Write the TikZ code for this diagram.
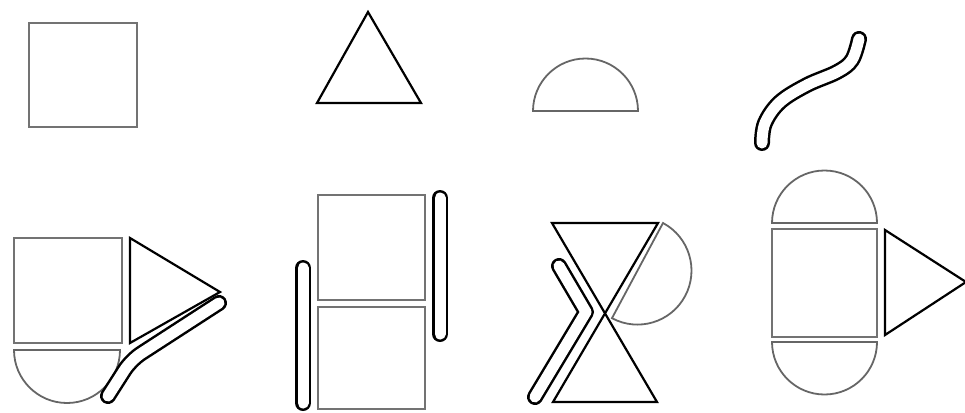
\documentclass[tikz,border=0pt]{standalone}
\begin{document}
\begin{tikzpicture}[x=1pt,y=-1pt,
  graybox/.style={draw=black!55,line width=2.2pt,line join=miter},
  grayarc/.style={draw=black!60,line width=1.8pt},
  blacktri/.style={draw=black,line width=2.2pt,line join=miter},
  tubeout/.style={draw=black,line width=16pt,line cap=round,line join=round},
  tubein/.style={draw=white,line width=11pt,line cap=round,line join=round}]
\useasboundingbox (0,0) rectangle (965,412);
% ---------- top row ----------
\draw[graybox] (29,23) rectangle (137,127);
\draw[blacktri] (368,12) -- (421,103) -- (317,103) -- cycle;
\draw[grayarc] (533,111) arc[start angle=180,end angle=360,radius=52.5] -- cycle;
\def\wave{plot[smooth,tension=0.6] coordinates {(762,143) (765,123) (780,102) (807,85) (837,72) (852,60) (859,39)}}
\draw[tubeout] \wave;
\draw[tubein] \wave;
% ---------- composite 1 ----------
\draw[graybox] (14,238) rectangle (122,343);
\draw[blacktri] (130,238) -- (220,292) -- (130,343) -- cycle;
\draw[grayarc] (14,350) arc[start angle=180,end angle=0,radius=53] -- cycle;
\draw[tubeout,rounded corners=12pt] (108,396) -- (131,360) -- (219,303);
\draw[tubein,rounded corners=12pt] (108,396) -- (131,360) -- (219,303);
% ---------- composite 2 ----------
\draw[graybox] (318,195) rectangle (425,300);
\draw[graybox] (318,307) rectangle (425,409);
\draw[tubeout] (440,198) -- (440,334);
\draw[tubein] (440,198) -- (440,334);
\draw[tubeout] (303,268) -- (303,403);
\draw[tubein] (303,268) -- (303,403);
% ---------- composite 3 ----------
\draw[blacktri] (552,223) -- (658,223) -- (553,402) -- (657,402) -- cycle;
\draw[grayarc] (663,223) arc[start angle=-61.8,end angle=118.2,radius=54] -- cycle;
\draw[tubeout] (559,266) -- (586,312) -- (535,397);
\draw[tubein] (559,266) -- (586,312) -- (535,397);
% ---------- composite 4 ----------
\draw[grayarc] (772,223) arc[start angle=180,end angle=360,radius=52.5] -- cycle;
\draw[graybox] (772,229) rectangle (877,337);
\draw[grayarc] (772,342) arc[start angle=180,end angle=0,radius=52.5] -- cycle;
\draw[blacktri] (885,230) -- (966,282) -- (885,335) -- cycle;
\end{tikzpicture}
\end{document}
